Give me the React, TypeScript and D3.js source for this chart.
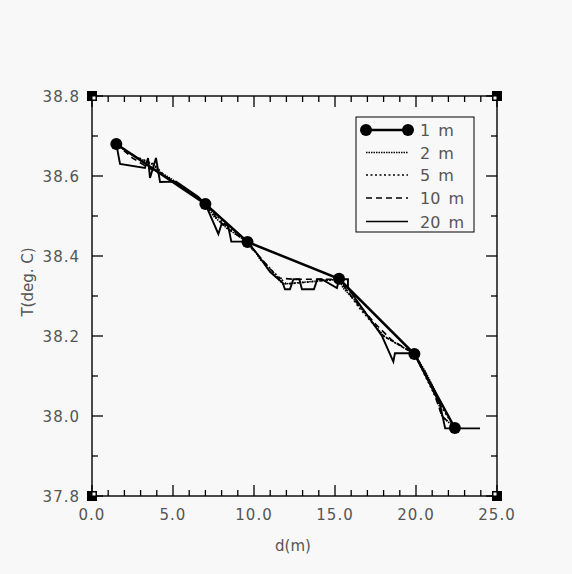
import React from "react";
import * as d3 from "d3";

// ---- data (d in m, T in deg C) ----
const s1mX = [1.5, 7.0, 9.6, 15.25, 19.9, 22.4];
const s1mY = [38.68, 38.53, 38.435, 38.343, 38.155, 37.97];

const s2mX = [1.5, 2.2, 3.1, 3.7, 4.2, 5.0, 6.0, 7.0, 7.5, 8.3, 9.6, 9.9, 10.1, 10.4, 10.6, 10.9, 11.3, 11.8, 15.25, 15.5, 16.2, 17.2, 18.0, 19.9, 20.6, 21.2, 21.6, 22.4];
const s2mY = [38.68, 38.66, 38.64, 38.63, 38.61, 38.59, 38.56, 38.53, 38.5, 38.47, 38.435, 38.415, 38.41, 38.39, 38.385, 38.365, 38.35, 38.33, 38.342, 38.32, 38.29, 38.24, 38.2, 38.155, 38.11, 38.06, 38.0, 37.97];

const s5mX = [1.5, 2.6, 3.8, 4.5, 5.8, 7.0, 8.2, 9.6, 10.5, 11.2, 12.0, 15.25, 16.5, 18.0, 19.9, 21.3, 22.4];
const s5mY = [38.68, 38.65, 38.63, 38.6, 38.565, 38.53, 38.48, 38.435, 38.39, 38.36, 38.33, 38.342, 38.27, 38.2, 38.155, 38.04, 37.97];

const s10mX = [1.5, 2.5, 3.5, 4.5, 5.5, 7.0, 7.8, 8.5, 9.6, 10.3, 11.5, 12.4, 14.2, 15.25, 16.0, 17.5, 18.5, 19.9, 21.0, 21.6, 22.4];
const s10mY = [38.68, 38.645, 38.62, 38.6, 38.575, 38.53, 38.49, 38.465, 38.435, 38.4, 38.345, 38.342, 38.342, 38.342, 38.3, 38.23, 38.19, 38.155, 38.07, 38.0, 37.97];

const s20mX = [1.5, 1.73, 3.27, 3.46, 3.58, 3.95, 4.2, 5.2, 6.55, 7.0, 7.8, 8.0, 8.4, 8.6, 9.6, 10.2, 11.0, 11.77, 11.91, 12.22, 12.43, 12.8, 12.96, 13.7, 13.91, 14.18, 15.12, 15.25, 15.8, 15.8, 16.5, 17.9, 18.6, 18.7, 19.9, 21.48, 21.8, 22.4, 23.95];
const s20mY = [38.68, 38.63, 38.62, 38.645, 38.595, 38.645, 38.585, 38.586, 38.548, 38.53, 38.455, 38.48, 38.476, 38.436, 38.436, 38.405, 38.36, 38.333, 38.317, 38.317, 38.342, 38.342, 38.317, 38.317, 38.342, 38.342, 38.32, 38.342, 38.342, 38.32, 38.28, 38.2, 38.136, 38.157, 38.157, 38.03, 37.969, 37.969, 37.969];

const xTickLabels = ["0.0", "5.0", "10.0", "15.0", "20.0", "25.0"];
const yTickLabels = ["37.8", "38.0", "38.2", "38.4", "38.6", "38.8"];
const legendLabels = ["1 m", "2 m", "5 m", "10 m", "20 m"];
const xTitle = "d(m)";
const yTitle = "T(deg. C)";

const W = 572;
const H = 574;
const L = 92, R = 497, T = 96, B = 496;
const FONT = "'DejaVu Sans', sans-serif";
const TXT = "#555";

export default function App() {
  const x = d3.scaleLinear().domain([0, 25]).range([L, R]);
  const y = d3.scaleLinear().domain([37.8, 38.8]).range([B, T]);
  const line = d3.line<[number, number]>().x((d) => x(d[0])).y((d) => y(d[1]));
  const pts = (xs: number[], ys: number[]) => xs.map((v, i) => [v, ys[i]] as [number, number]);

  const xMajor = d3.range(0, 26, 5);
  const xMinor = d3.range(0, 26, 1).filter((v) => v % 5 !== 0);
  const yMajor = d3.range(0, 6).map((i) => 37.8 + i * 0.2);
  const yMinor = d3.range(0, 5).map((i) => 37.9 + i * 0.2);
  const MAJ = 11, MIN = 6;

  const series = [
    { xs: s2mX, ys: s2mY, dash: "1.5,1", w: 1.6 },
    { xs: s5mX, ys: s5mY, dash: "2,2.5", w: 1.6 },
    { xs: s10mX, ys: s10mY, dash: "6,4", w: 1.6 },
    { xs: s20mX, ys: s20mY, dash: undefined, w: 1.9 },
  ];
  const legendDash = [undefined, "1.5,1", "2,2.5", "6,4", undefined];

  const corners: [number, number, number, number][] = [
    [L, T, 1, 1],
    [R, T, -1, 1],
    [L, B, 1, -1],
    [R, B, -1, -1],
  ];

  const lgX = 356, lgY = 117, lgW = 118, lgH = 115;
  const rowY = [130, 152.5, 175, 198, 221.5];

  return (
    <svg width={W} height={H} style={{ position: "absolute", left: 0, top: 0 }} fontFamily={FONT}>
      <rect width={W} height={H} fill="#f8f8f8" />
      {/* frame */}
      <rect x={L} y={T} width={R - L} height={B - T} fill="none" stroke="#000" strokeWidth={1.4} />
      {/* x ticks */}
      {xMajor.map((v) => (
        <g key={"xm" + v}>
          <line x1={x(v)} x2={x(v)} y1={B} y2={B - MAJ} stroke="#000" strokeWidth={1.3} />
          <line x1={x(v)} x2={x(v)} y1={T} y2={T + MAJ} stroke="#000" strokeWidth={1.3} />
        </g>
      ))}
      {xMinor.map((v) => (
        <g key={"xn" + v}>
          <line x1={x(v)} x2={x(v)} y1={B} y2={B - MIN} stroke="#000" strokeWidth={1.3} />
          <line x1={x(v)} x2={x(v)} y1={T} y2={T + MIN} stroke="#000" strokeWidth={1.3} />
        </g>
      ))}
      {yMajor.map((v) => (
        <g key={"ym" + v}>
          <line x1={L} x2={L + MAJ} y1={y(v)} y2={y(v)} stroke="#000" strokeWidth={1.3} />
          <line x1={R} x2={R - MAJ} y1={y(v)} y2={y(v)} stroke="#000" strokeWidth={1.3} />
        </g>
      ))}
      {yMinor.map((v) => (
        <g key={"yn" + v}>
          <line x1={L} x2={L + MIN} y1={y(v)} y2={y(v)} stroke="#000" strokeWidth={1.3} />
          <line x1={R} x2={R - MIN} y1={y(v)} y2={y(v)} stroke="#000" strokeWidth={1.3} />
        </g>
      ))}
      {/* corner squares */}
      {corners.map(([cx, cy, dx, dy], i) => (
        <g key={"c" + i}>
          <rect x={cx - 5} y={cy - 5} width={10} height={10} fill="#000" />
          <rect x={dx > 0 ? cx + 0.5 : cx - 3.5} y={dy > 0 ? cy + 0.5 : cy - 3.5} width={3} height={3} fill="#f8f8f8" />
        </g>
      ))}
      {/* tick labels */}
      {xTickLabels.map((t, i) => (
        <text key={"xl" + i} x={x(xMajor[i])} y={520} textAnchor="middle" fontSize={15} fill={TXT} letterSpacing={1}>
          {t}
        </text>
      ))}
      {yTickLabels.map((t, i) => (
        <text key={"yl" + i} x={80} y={y(yMajor[i]) + 5.5} textAnchor="end" fontSize={15} fill={TXT} letterSpacing={1}>
          {t}
        </text>
      ))}
      <text x={293} y={551} textAnchor="middle" fontSize={15} fill={TXT}>
        {xTitle}
      </text>
      <text transform={`translate(33,282) rotate(-90)`} textAnchor="middle" fontSize={15} fill={TXT}>
        {yTitle}
      </text>
      {/* data */}
      <g>
        {series.map((s, i) => (
          <path key={"s" + i} d={line(pts(s.xs, s.ys)) || ""} fill="none" stroke="#000" strokeWidth={s.w} strokeDasharray={s.dash} />
        ))}
        <path d={line(pts(s1mX, s1mY)) || ""} fill="none" stroke="#000" strokeWidth={2.5} />
        {s1mX.map((v, i) => (
          <circle key={"m" + i} cx={x(v)} cy={y(s1mY[i])} r={6} fill="#000" />
        ))}
      </g>
      {/* legend */}
      <rect x={lgX} y={lgY} width={lgW} height={lgH} fill="#f8f8f8" stroke="#000" strokeWidth={1} />
      {legendLabels.map((lab, i) => (
        <g key={"lg" + i}>
          <line x1={366} x2={408} y1={rowY[i]} y2={rowY[i]} stroke="#000" strokeWidth={i === 0 ? 2.5 : 1.7} strokeDasharray={legendDash[i]} />
          {i === 0 && (
            <>
              <circle cx={366} cy={rowY[i]} r={6} fill="#000" />
              <circle cx={408} cy={rowY[i]} r={6} fill="#000" />
            </>
          )}
          <text x={420} y={rowY[i] + 6} fontSize={16} fill={TXT} wordSpacing={3}>
            {lab}
          </text>
        </g>
      ))}
    </svg>
  );
}
